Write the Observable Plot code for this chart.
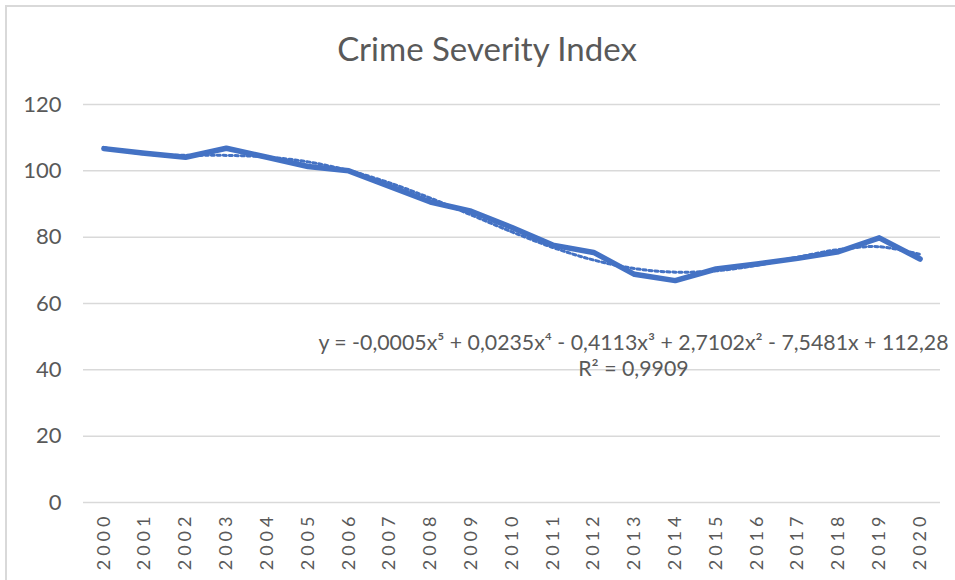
<!DOCTYPE html>
<html>
<head>
<meta charset="utf-8">
<script src="https://cdn.jsdelivr.net/npm/d3@7"></script>
<script src="https://cdn.jsdelivr.net/npm/@observablehq/plot@0.6"></script>
<style>
  html, body { margin: 0; padding: 0; background: #fff; }
  #wrap { position: relative; width: 955px; height: 580px; overflow: hidden; }
  #frame { position: absolute; left: 5px; top: 5px; width: 960px; height: 590px;
           border-left: 2px solid #d9d9d9; border-top: 2px solid #d9d9d9; box-sizing: border-box; pointer-events: none; }
  svg { display: block; }
</style>
</head>
<body>
<div id="wrap"><div id="chart"></div><div id="frame"></div></div>
<script>
const years = ["2000","2001","2002","2003","2004","2005","2006","2007","2008","2009","2010",
               "2011","2012","2013","2014","2015","2016","2017","2018","2019","2020"];
const csi = [106.7, 105.3, 104.1, 106.8, 104.1, 101.3, 100.0, 95.3, 90.6, 87.8, 82.9,
             77.6, 75.4, 68.8, 66.9, 70.4, 71.9, 73.6, 75.6, 79.8, 73.4];
const yTicks = [0, 20, 40, 60, 80, 100, 120];
const titleText = "Crime Severity Index";
const equationText = "y = -0,0005x\u2075 + 0,0235x\u2074 - 0,4113x\u00B3 + 2,7102x\u00B2 - 7,5481x + 112,28";
const r2Text = "R\u00B2 = 0,9909";

// Degree-5 least-squares polynomial trendline (as Excel computes), x = 1..n
function polyFit(ys, degree) {
  const n = ys.length, m = degree + 1;
  const t = ys.map((_, i) => ((i + 1) - (n + 1) / 2) / ((n - 1) / 2));
  const A = Array.from({length: m}, () => new Array(m + 1).fill(0));
  for (let k = 0; k < n; k++) {
    const p = [];
    for (let j = 0; j < m; j++) p.push(Math.pow(t[k], j));
    for (let r = 0; r < m; r++) {
      for (let c = 0; c < m; c++) A[r][c] += p[r] * p[c];
      A[r][m] += p[r] * ys[k];
    }
  }
  for (let i = 0; i < m; i++) {
    let piv = i;
    for (let r = i + 1; r < m; r++) if (Math.abs(A[r][i]) > Math.abs(A[piv][i])) piv = r;
    [A[i], A[piv]] = [A[piv], A[i]];
    for (let r = 0; r < m; r++) {
      if (r === i) continue;
      const f = A[r][i] / A[i][i];
      for (let c = i; c <= m; c++) A[r][c] -= f * A[i][c];
    }
  }
  const coef = A.map((row, i) => row[m] / row[i]);
  return t.map(tv => coef.reduce((s, c, j) => s + c * Math.pow(tv, j), 0));
}
const trend = polyFit(csi, 5);

const data = years.map((y, i) => ({year: y, value: csi[i], trend: trend[i]}));

const gray = "#595959";
const blue = "#4472C4";
const font = "Lato, 'Open Sans', sans-serif";

const plot = Plot.plot({
  width: 955,
  height: 580,
  marginTop: 104,
  marginBottom: 78,
  marginLeft: 83,
  marginRight: 15,
  style: {fontFamily: font, color: gray, background: "transparent"},
  x: {type: "point", domain: years, padding: 0.5, round: false},
  y: {domain: [0, 120]},
  marks: [
    Plot.ruleY(yTicks, {stroke: "#d9d9d9", strokeWidth: 1.5}),
    Plot.axisY({ticks: yTicks, tickSize: 0, tickPadding: 22, fontSize: 22, fill: gray, label: null}),
    Plot.axisX({tickRotate: -90, tickSize: 0, tickPadding: 10, fontSize: 18, fill: gray, label: null}),
    Plot.line(data, {x: "year", y: "trend", stroke: blue, strokeWidth: 3,
                     strokeDasharray: "3 3", curve: "catmull-rom"}),
    Plot.line(data, {x: "year", y: "value", stroke: blue, strokeWidth: 5.5,
                     strokeLinejoin: "round", strokeLinecap: "round"}),
    Plot.text([titleText], {frameAnchor: "top", lineAnchor: "middle", dx: -25, dy: -54, fontSize: 33, fill: gray}),
    Plot.text([equationText], {frameAnchor: "right", y: [48], dx: 8, textAnchor: "end",
                               fontSize: 21.3, fill: gray}),
    Plot.text([r2Text], {x: ["2013"], y: [40.3], dx: -1, fontSize: 21.3, fill: gray})
  ]
});
const xl = plot.querySelector('g[aria-label="x-axis tick label"]');
if (xl) xl.setAttribute("letter-spacing", "4");
document.getElementById("chart").appendChild(plot);
</script>
</body>
</html>
